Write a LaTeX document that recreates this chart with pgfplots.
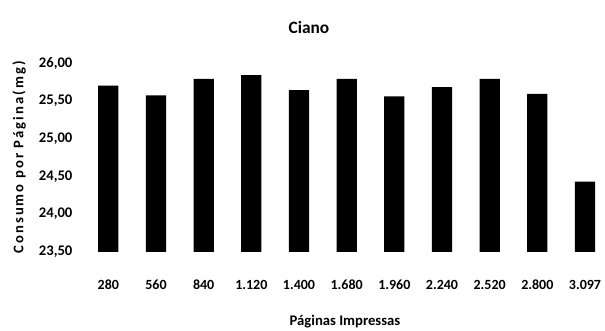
\documentclass[border=0pt]{standalone}
\usepackage{fontspec}
\setmainfont{Carlito}
\usepackage{pgfplots}
\pgfplotsset{compat=1.18}
\begin{document}
\begin{tikzpicture}
\begin{axis}[
  name=ax,
  scale only axis,
  width=386.1pt, height=141.75pt,
  xmin=-0.5, xmax=10.3,
  ymin=23.5, ymax=26.0,
  ybar, bar width=15.2pt,
  axis line style={draw=none},
  major tick length=0pt,
  xtick=data,
  xticklabels={280,560,840,1.120,1.400,1.680,1.960,2.240,2.520,2.800,3.097},
  ytick={23.5,24,24.5,25,25.5,26},
  /pgf/number format/.cd, fixed, fixed zerofill, precision=2, use comma, assume math mode=true,
  /pgfplots/.cd,
  yticklabel style={font=\bfseries\fontsize{11}{13}\selectfont, anchor=east, inner sep=0pt, xshift=-8.9pt},
  xticklabel style={font=\bfseries\fontsize{10.5}{12}\selectfont, anchor=base, inner sep=0pt, yshift=-28.3pt},
  xlabel={Páginas Impressas},
  xlabel style={font=\bfseries\fontsize{11}{13}\selectfont, at={(axis description cs:0.5,0)}, anchor=center, yshift=-52.3pt, xshift=2.3pt},
  title={Ciano},
  title style={font=\bfseries\fontsize{13}{15}\selectfont, at={(axis description cs:0.436,1)}, anchor=center, yshift=21pt},
]
\addplot[fill=black, draw=none] coordinates {
  (0,25.70) (1,25.57) (2,25.79) (3,25.84) (4,25.64) (5,25.79)
  (6,25.56) (7,25.68) (8,25.79) (9,25.59) (10,24.43)
};
\end{axis}
\node[rotate=90, anchor=center, font=\bfseries\fontsize{11}{13}\selectfont]
  at ([xshift=-49.1pt]ax.west) {\addfontfeature{LetterSpace=14}Consumo por Página(mg)};
\pgfresetboundingbox
\path ([xshift=-63.4pt,yshift=-59.25pt]ax.south west) rectangle ([xshift=4.3pt,yshift=47.25pt]ax.north east);
\end{tikzpicture}
\end{document}
